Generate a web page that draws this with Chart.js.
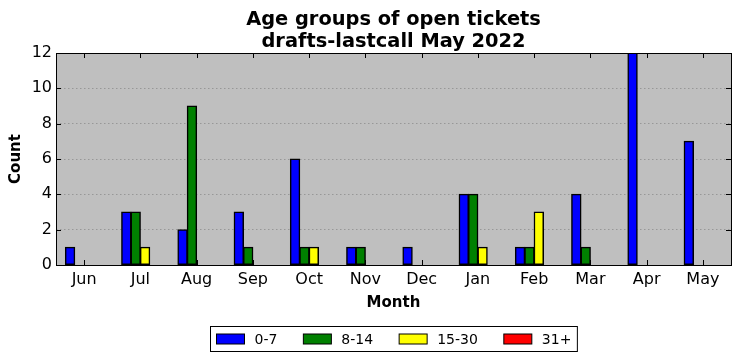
<!DOCTYPE html>
<html>
<head>
<meta charset="utf-8">
<script src="https://cdn.jsdelivr.net/npm/chart.js@4"></script>
<style>
  html, body { margin: 0; padding: 0; background: #fff; }
  #wrap { width: 741px; height: 361px; }
</style>
</head>
<body>
<div id="wrap"><canvas id="grafico"></canvas></div>
<script>
const meses = ["Jun", "Jul", "Aug", "Sep", "Oct", "Nov", "Dec", "Jan", "Feb", "Mar", "Apr", "May"];
const faixas = ["0-7", "8-14", "15-30", "31+"];
const cores = ["#0000ff", "#008000", "#ffff00", "#ff0000"];
const d0_7   = [1, 3, 2, 3, 6, 1, 1, 4, 1, 4, 12, 7];
const d8_14  = [0, 3, 9, 1, 1, 1, 0, 4, 1, 1, 0, 0];
const d15_30 = [0, 1, 0, 0, 1, 0, 0, 1, 3, 0, 0, 0];
const d31    = [0, 0, 0, 0, 0, 0, 0, 0, 0, 0, 0, 0];
const yTicks = [0, 2, 4, 6, 8, 10, 12];

const FONT = "'DejaVu Sans', sans-serif";

// fundo cinza + moldura + ticks para dentro + legenda com caixa
const moldura = {
  id: "moldura",
  beforeDraw(chart) {
    const { ctx, chartArea: a } = chart;
    ctx.save();
    ctx.fillStyle = "#bfbfbf";
    ctx.fillRect(a.left, a.top, a.right - a.left, a.bottom - a.top);
    ctx.restore();
  },
  afterDraw(chart) {
    const { ctx, chartArea: a, scales } = chart;
    ctx.save();
    ctx.strokeStyle = "#000";
    ctx.lineWidth = 1;
    ctx.beginPath();
    scales.x.ticks.forEach((t, i) => {
      const x = Math.round(scales.x.getPixelForTick(i)) + 0.5;
      ctx.moveTo(x, a.bottom); ctx.lineTo(x, a.bottom - 5);
      ctx.moveTo(x, a.top); ctx.lineTo(x, a.top + 5);
    });
    yTicks.forEach(v => {
      const y = Math.round(scales.y.getPixelForValue(v)) + 0.5;
      ctx.moveTo(a.left, y); ctx.lineTo(a.left + 5, y);
      ctx.moveTo(a.right, y); ctx.lineTo(a.right - 5, y);
    });
    ctx.stroke();
    ctx.strokeRect(Math.round(a.left) + 0.5, Math.round(a.top) + 0.5,
      Math.round(a.right - a.left), Math.round(a.bottom - a.top));

    ctx.font = "14px " + FONT;
    const patchW = 28, patchH = 10, gap = 10, col = 26, pad = 6;
    const itens = chart.data.datasets.map(ds => ({ label: ds.label, cor: ds.backgroundColor, w: ctx.measureText(ds.label).width }));
    let total = pad * 2;
    itens.forEach((it, i) => { total += patchW + gap + it.w + (i < itens.length - 1 ? col : 0); });
    const cx = (a.left + a.right) / 2;
    const bx = Math.round(cx - total / 2) + 0.5;
    const by = 326.5, bh = 25;
    ctx.fillStyle = "#fff";
    ctx.fillRect(bx, by, total, bh);
    ctx.strokeRect(bx, by, total, bh);
    let x = bx + pad;
    const cy = by + bh / 2;
    ctx.textBaseline = "middle";
    itens.forEach(it => {
      ctx.fillStyle = it.cor;
      ctx.fillRect(x, cy - patchH / 2, patchW, patchH);
      ctx.strokeRect(x, cy - patchH / 2, patchW, patchH);
      x += patchW + gap;
      ctx.fillStyle = "#000";
      ctx.fillText(it.label, x, cy + 1);
      x += it.w + col;
    });
    ctx.restore();
  }
};

const series = [d0_7, d8_14, d15_30, d31];

new Chart(document.getElementById("grafico"), {
  type: "bar",
  data: {
    labels: meses,
    datasets: faixas.map((f, i) => ({
      label: f,
      data: series[i],
      backgroundColor: cores[i],
      borderColor: "#000",
      borderWidth: 1.5,
      borderSkipped: false,
      inflateAmount: 0.5,
      categoryPercentage: 0.6667,
      barPercentage: 1.0
    }))
  },
  options: {
    responsive: true,
    maintainAspectRatio: false,
    animation: false,
    devicePixelRatio: 1,
    layout: { padding: { left: 0, right: 10, top: 0, bottom: 49 } },
    plugins: {
      legend: { display: false },
      tooltip: { enabled: false },
      title: {
        display: true,
        fullSize: false,
        text: ["Age groups of open tickets", "drafts-lastcall May 2022"],
        color: "#000",
        font: { family: FONT, size: 19.4, weight: "bold", lineHeight: "22px" },
        padding: { top: 9, bottom: 0 }
      }
    },
    scales: {
      x: {
        grid: { display: false, drawTicks: false },
        border: { display: false },
        ticks: { color: "#000", font: { family: FONT, size: 16 }, padding: 5, maxRotation: 0 },
        title: {
          display: true, text: "Month", color: "#000",
          font: { family: FONT, size: 15, weight: "bold" },
          padding: { top: 0, bottom: 0 }
        },
        afterFit(s) { s.height = 47; }
      },
      y: {
        min: 0, max: 12,
        grid: { color: "#979797", lineWidth: 1, drawTicks: false },
        border: { display: false, dash: [1.5, 2.5] },
        ticks: { color: "#000", font: { family: FONT, size: 16 }, padding: 4, stepSize: 2 },
        title: {
          display: true, text: "Count", color: "#000",
          font: { family: FONT, size: 15, weight: "bold" },
          padding: { top: 7, bottom: 0 }
        },
        afterFit(s) { s.width = 56; }
      }
    }
  },
  plugins: [moldura]
});
</script>
</body>
</html>
